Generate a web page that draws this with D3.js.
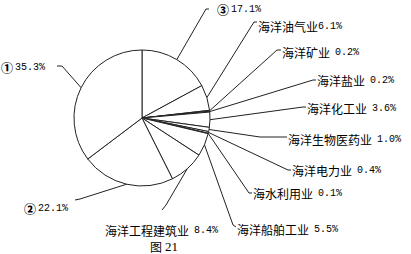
<!DOCTYPE html>
<html>
<head>
<meta charset="utf-8">
<script src="https://cdn.jsdelivr.net/npm/d3@7"></script>
<style>
  body { margin: 0; background: #fff; }
</style>
</head>
<body>
<div class="chart"></div>
<script>
// data, clockwise from 12 o'clock
var sectors = ["③", "海洋油气业", "海洋矿业", "海洋盐业", "海洋化工业", "海洋生物医药业",
               "海洋电力业", "海水利用业", "海洋船舶工业", "海洋工程建筑业", "②", "①"];
var shares = [17.1, 6.1, 0.2, 0.2, 3.6, 1.0, 0.4, 0.1, 5.5, 8.4, 22.1, 35.3];
var caption = "21";

// label layout: text start x, text middle y, leader elbow (ex,ey), stub end (sx,sy)
var labelPos = [
  {x: 217, y: 9,   ex: 206, ey: 9,   sx: 209, sy: 9},
  {x: 258, y: 26,  ex: 254, ey: 22,  sx: 257, sy: 22},
  {x: 282, y: 52,  ex: 277, ey: 50,  sx: 281, sy: 50},
  {x: 317, y: 80,  ex: 313, ey: 80,  sx: 316, sy: 80},
  {x: 307, y: 108, ex: 303, ey: 107, sx: 306, sy: 107},
  {x: 288, y: 139, ex: 260, ey: 137, sx: 287, sy: 137},
  {x: 292, y: 170, ex: 288, ey: 170, sx: 291, sy: 170},
  {x: 253, y: 193, ex: 249, ey: 193, sx: 252, sy: 193},
  {x: 237, y: 229, ex: 233, ey: 225, sx: 236, sy: 227},
  {x: 105, y: 230, ex: 166, ey: 205, sx: 162, sy: 210},
  {x: 24,  y: 208, ex: 80,  ey: 199, sx: 75,  sy: 200},
  {x: 1,   y: 67,  ex: 62,  ey: 66,  sx: 57,  sy: 66}
];

var width = 411;
var height = 254;
var cx = 142;
var cy = 118;
var radius = 68;

var cjk = "'Noto Sans CJK SC', sans-serif";
var mono = "'Liberation Mono', 'DejaVu Sans Mono', monospace";
var ink = "#222";

var svg = d3.select(".chart")
            .append("svg")
            .attr("width", width)
            .attr("height", height);

var pie = d3.pie().sort(null).value(d => d);
var arcs = pie(shares);
var arc = d3.arc().innerRadius(0).outerRadius(radius);

var g = svg.append("g")
           .attr("transform", "translate(" + cx + "," + cy + ")");

g.selectAll("path")
 .data(arcs)
 .enter()
 .append("path")
 .attr("d", arc)
 .attr("fill", "#fff")
 .attr("stroke", ink)
 .attr("stroke-width", 1)
 .attr("stroke-linejoin", "round");

var fmt = d => d3.format(".1f")(d) + "%";

// leaders
svg.selectAll(".leader")
   .data(arcs)
   .enter()
   .append("polyline")
   .attr("class", "leader")
   .attr("points", (d, i) => {
     var a = (d.startAngle + d.endAngle) / 2;
     var px = cx + radius * Math.sin(a);
     var py = cy - radius * Math.cos(a);
     var p = labelPos[i];
     return [px, py, p.ex, p.ey, p.sx, p.sy].join(" ");
   })
   .attr("fill", "none")
   .attr("stroke", ink)
   .attr("stroke-width", 1);

// labels
var labels = svg.selectAll(".lbl")
   .data(arcs)
   .enter()
   .append("text")
   .attr("class", "lbl")
   .attr("x", (d, i) => labelPos[i].x)
   .attr("y", (d, i) => labelPos[i].y)
   .attr("dominant-baseline", "central")
   .attr("fill", "#000");

labels.append("tspan")
      .style("font-family", cjk)
      .style("font-size", (d, i) => sectors[i].length === 1 ? "12px" : "12px")
      .style("font-weight", (d, i) => sectors[i].length === 1 ? "900" : "normal")
      .text((d, i) => sectors[i]);

labels.append("tspan")
      .attr("dx", (d, i) => i === 1 ? 0 : (sectors[i].length === 1 ? 2 : 5))
      .style("font-family", mono)
      .style("font-size", "10px")
      .text(d => fmt(d.data));

// caption
var cap = svg.append("text")
             .attr("x", 164)
             .attr("y", 246)
             .attr("text-anchor", "middle")
             .attr("dominant-baseline", "central")
             .attr("fill", "#000");
cap.append("tspan")
   .style("font-family", cjk)
   .style("font-size", "12px")
   .text("图");
cap.append("tspan")
   .attr("dx", 3)
   .style("font-family", "'Liberation Serif', serif")
   .style("font-size", "13px")
   .text(caption);
</script>
</body>
</html>
